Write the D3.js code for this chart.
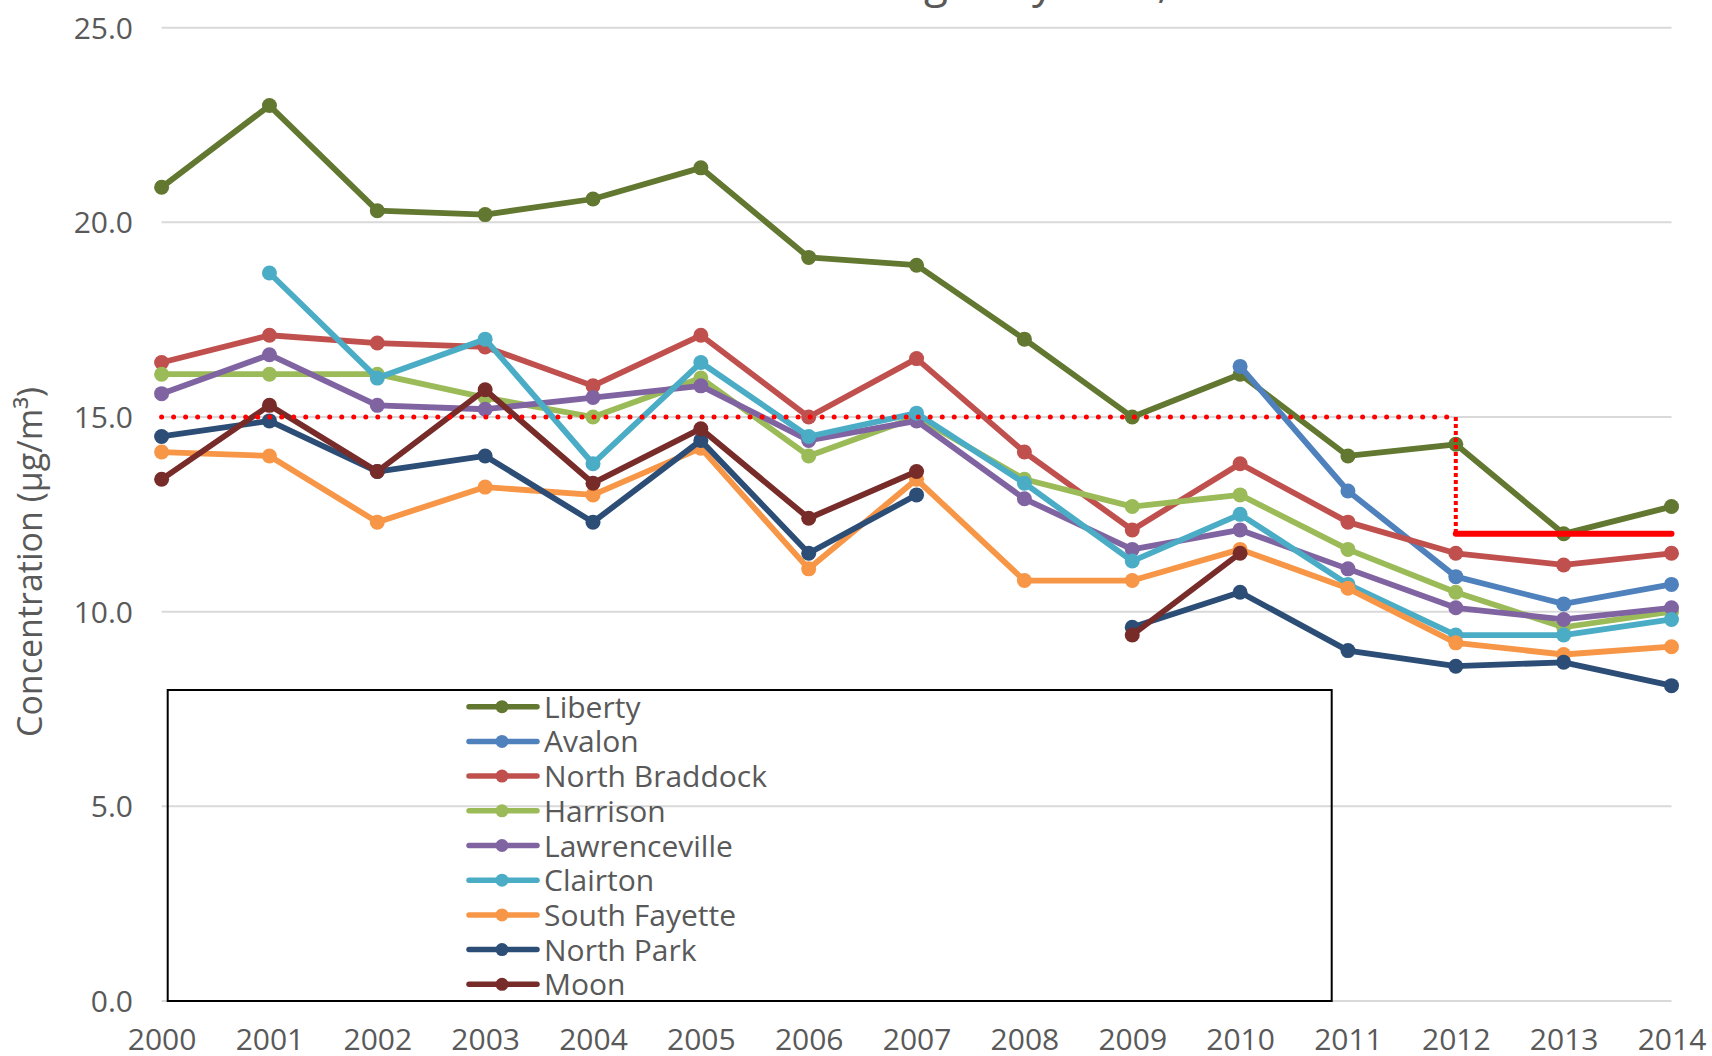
<!DOCTYPE html>
<html>
<head>
<meta charset="utf-8">
<script src="https://cdn.jsdelivr.net/npm/d3@7"></script>
<style>
  html, body { margin: 0; padding: 0; background: #fff; }
  svg { display: block; }
  text { font-family: "Open Sans", "Noto Sans", sans-serif; fill: #595959; }
</style>
</head>
<body>
<svg id="chart" width="1712" height="1056"></svg>
<script>
// Annual PM2.5 concentrations (µg/m³) by monitoring site
const years = [2000, 2001, 2002, 2003, 2004, 2005, 2006, 2007, 2008, 2009, 2010, 2011, 2012, 2013, 2014];

const liberty       = [20.9, 23.0, 20.3, 20.2, 20.6, 21.4, 19.1, 18.9, 17.0, 15.0, 16.1, 14.0, 14.3, 12.0, 12.7];
const avalon        = [null, null, null, null, null, null, null, null, null, null, 16.3, 13.1, 10.9, 10.2, 10.7];
const northBraddock = [16.4, 17.1, 16.9, 16.8, 15.8, 17.1, 15.0, 16.5, 14.1, 12.1, 13.8, 12.3, 11.5, 11.2, 11.5];
const harrison      = [16.1, 16.1, 16.1, 15.5, 15.0, 16.0, 14.0, 15.0, 13.4, 12.7, 13.0, 11.6, 10.5, 9.6, 10.0];
const lawrenceville = [15.6, 16.6, 15.3, 15.2, 15.5, 15.8, 14.4, 14.9, 12.9, 11.6, 12.1, 11.1, 10.1, 9.8, 10.1];
const clairton      = [null, 18.7, 16.0, 17.0, 13.8, 16.4, 14.5, 15.1, 13.3, 11.3, 12.5, 10.7, 9.4, 9.4, 9.8];
const southFayette  = [14.1, 14.0, 12.3, 13.2, 13.0, 14.2, 11.1, 13.4, 10.8, 10.8, 11.6, 10.6, 9.2, 8.9, 9.1];
const northPark     = [14.5, 14.9, 13.6, 14.0, 12.3, 14.4, 11.5, 13.0, null, 9.6, 10.5, 9.0, 8.6, 8.7, 8.1];
const moon          = [13.4, 15.3, 13.6, 15.7, 13.3, 14.7, 12.4, 13.6, null, 9.4, 11.5, null, null, null, null];

const seriesNames  = ["Liberty", "Avalon", "North Braddock", "Harrison", "Lawrenceville", "Clairton", "South Fayette", "North Park", "Moon"];
const seriesValues = [liberty, avalon, northBraddock, harrison, lawrenceville, clairton, southFayette, northPark, moon];
const seriesColors = ["#627730", "#4F81BD", "#C0504D", "#9BBB59", "#8064A2", "#4BACC6", "#F79646", "#2C4D75", "#772C2A"];

// Annual standard: 15.0 through 2012, 12.0 from 2012 on
const oldStandard = { from: 2000, to: 2012, value: 15.0 };
const newStandard = { from: 2012, to: 2014, value: 12.0 };

const yTicks = [0, 5, 10, 15, 20, 25];
const titleText = "PM2.5 Annual Averages by Year, 2000–2014";
const yTitle = "Concentration (µg/m³)";

const svg = d3.select("#chart");

const x = d3.scalePoint().domain(years).range([161.6, 1671.5]);
const y = d3.scaleLinear().domain([0, 25]).range([1001, 27.7]);

// Title (sits mostly above the top edge)
svg.append("text")
  .attr("x", 512)
  .attr("y", -3)
  .attr("font-size", 44)
  .text(titleText);

// Horizontal gridlines
svg.append("g")
  .selectAll("line")
  .data(yTicks)
  .join("line")
  .attr("x1", x(years[0]))
  .attr("x2", x(years[years.length - 1]))
  .attr("y1", d => y(d))
  .attr("y2", d => y(d))
  .attr("stroke", "#D9D9D9")
  .attr("stroke-width", 2);

// Y axis labels
const yAxis = d3.axisLeft(y).tickValues(yTicks).tickFormat(d3.format(".1f")).tickSize(0).tickPadding(0);
const yg = svg.append("g").attr("transform", "translate(133,0)").call(yAxis);
yg.select(".domain").remove();
yg.selectAll("text")
  .attr("font-size", 30)
  .attr("fill", "#595959")
  .attr("font-family", "Open Sans")
  .attr("dy", "0.35em");

// X axis labels
const xAxis = d3.axisBottom(x).tickSize(0).tickPadding(0);
const xg = svg.append("g").attr("transform", "translate(0,1029)").call(xAxis);
xg.select(".domain").remove();
xg.selectAll("text")
  .attr("font-size", 30)
  .attr("fill", "#595959")
  .attr("font-family", "Open Sans")
  .attr("dy", "0.71em");

// Y axis title
svg.append("text")
  .attr("transform", "translate(42,562) rotate(-90)")
  .attr("text-anchor", "middle")
  .attr("font-size", 34)
  .text(yTitle);

// Legend box (transparent, gridlines show through)
const legendBox = { x: 167.7, y: 690, w: 1164, h: 311 };
svg.append("rect")
  .attr("x", legendBox.x)
  .attr("y", legendBox.y)
  .attr("width", legendBox.w)
  .attr("height", legendBox.h)
  .attr("fill", "none")
  .attr("stroke", "#000")
  .attr("stroke-width", 2);

// Series lines and markers
const line = d3.line()
  .defined(d => d.v !== null)
  .x(d => x(d.year))
  .y(d => y(d.v));

seriesNames.forEach((name, i) => {
  const pts = years.map((yr, j) => ({ year: yr, v: seriesValues[i][j] }));
  const g = svg.append("g").attr("class", "series");
  g.append("path")
    .datum(pts)
    .attr("d", line)
    .attr("fill", "none")
    .attr("stroke", seriesColors[i])
    .attr("stroke-width", 5.8)
    .attr("stroke-linejoin", "round")
    .attr("stroke-linecap", "round");
  g.selectAll("circle")
    .data(pts.filter(d => d.v !== null))
    .join("circle")
    .attr("cx", d => x(d.year))
    .attr("cy", d => y(d.v))
    .attr("r", 7.5)
    .attr("fill", seriesColors[i]);
});

// Standard lines
svg.append("line")
  .attr("x1", x(oldStandard.from))
  .attr("x2", x(oldStandard.to))
  .attr("y1", y(oldStandard.value))
  .attr("y2", y(oldStandard.value))
  .attr("stroke", "#FF0000")
  .attr("stroke-width", 5)
  .attr("stroke-linecap", "round")
  .attr("stroke-dasharray", "0.01 12");

svg.append("line")
  .attr("x1", x(oldStandard.to))
  .attr("x2", x(oldStandard.to))
  .attr("y1", y(oldStandard.value))
  .attr("y2", y(newStandard.value))
  .attr("stroke", "#FF0000")
  .attr("stroke-width", 4)
  .attr("stroke-dasharray", "4 3");

svg.append("line")
  .attr("x1", x(newStandard.from))
  .attr("x2", x(newStandard.to))
  .attr("y1", y(newStandard.value))
  .attr("y2", y(newStandard.value))
  .attr("stroke", "#FF0000")
  .attr("stroke-width", 6)
  .attr("stroke-linecap", "round");

// Legend entries
const legend = svg.append("g");
seriesNames.forEach((name, i) => {
  const cy = 706.7 + i * 34.7;
  legend.append("line")
    .attr("x1", 469).attr("x2", 537)
    .attr("y1", cy).attr("y2", cy)
    .attr("stroke", seriesColors[i])
    .attr("stroke-width", 5.5)
    .attr("stroke-linecap", "round");
  legend.append("circle")
    .attr("cx", 502).attr("cy", cy).attr("r", 6.5)
    .attr("fill", seriesColors[i]);
  legend.append("text")
    .attr("x", 544)
    .attr("y", cy + 11)
    .attr("font-size", 30)
    .text(name);
});
</script>
</body>
</html>
